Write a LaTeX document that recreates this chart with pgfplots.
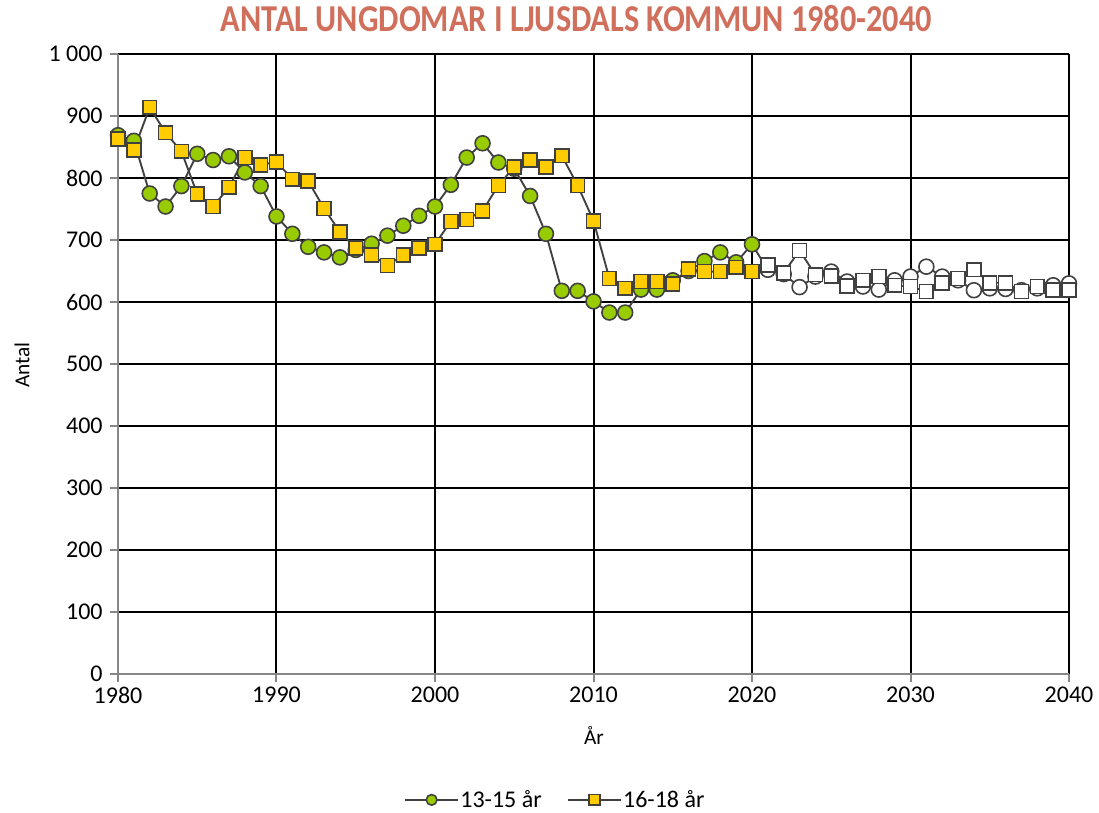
\documentclass[border=0pt]{standalone}
\usepackage{pgfplots}
\pgfplotsset{compat=1.18}
\usepackage{fontspec}
\setmainfont{Carlito}
\newfontfamily\titlefont[FakeStretch=0.85]{Carlito}

\definecolor{titlered}{RGB}{208,112,92}
\definecolor{kiwi}{RGB}{153,204,0}
\definecolor{gold}{RGB}{255,204,0}
\definecolor{edge}{RGB}{64,64,64}
\definecolor{axgray}{RGB}{134,134,134}

\begin{document}
\begin{tikzpicture}
    \useasboundingbox (-88.5bp,-104.25bp) rectangle (735.75bp,505.5bp);
    \begin{axis}[
        scale only axis,
        width=713.25bp, height=465bp,
        xmin=1980, xmax=2040,
        ymin=0, ymax=1000,
        xtick={1980,1990,...,2040},
        ytick={0,100,...,1000},
        yticklabels={0,100,200,300,400,500,600,700,800,900,1 000},
        xticklabel style={/pgf/number format/1000 sep={}},
        /pgf/number format/assume math mode=true,
        axis x line*=bottom, axis y line*=left,
        axis line style={axgray, line width=1.8bp, -},
        tick style={axgray, line width=1.5bp},
        tick align=outside,
        major tick length=6bp,
        grid=major,
        major grid style={black, line width=1.5bp},
        ticklabel style={font=\fontsize{18bp}{20bp}\selectfont},
        yticklabel style={xshift=-2bp},
        title={\titlefont\bfseries ANTAL UNGDOMAR I LJUSDALS KOMMUN 1980-2040},
        title style={at={(axis description cs:0.4820,1.0450)}, anchor=center,
            text=titlered, inner sep=0pt, font=\fontsize{28.5bp}{30bp}\selectfont},
        xlabel={År},
        xlabel style={at={(axis description cs:0.5005,-0.0984)}, anchor=center,
            font=\fontsize{16bp}{18bp}\selectfont},
        ylabel={Antal},
        ylabel style={at={(axis description cs:-0.101,0.498)}, anchor=center,
            rotate=0, font=\fontsize{16bp}{18bp}\selectfont},
        legend columns=2,
        legend style={at={(axis description cs:0.4595,-0.203)}, anchor=center,
            draw=none, fill=none, inner sep=0pt,
            nodes={inner sep=1bp}, font=\fontsize{18bp}{20bp}\selectfont,
            /tikz/every even column/.append style={column sep=18bp}},
        legend image code/.code={
            \draw[mark repeat=2, mark phase=2, mark size=4bp]
            plot coordinates {(0cm,0cm) (0.7cm,0cm) (1.4cm,0cm)};},
        every axis plot/.append style={line width=1.4bp, edge},
        clip=false,
    ]

    % 13-15 år, utfall
    \addplot[mark=*, mark size=5.6bp,
        mark options={fill=kiwi, draw=edge, line width=1.2bp}]
    table {
    x     y
    1980  869
    1981  860
    1982  775
    1983  754
    1984  787
    1985  839
    1986  829
    1987  835
    1988  809
    1989  787
    1990  738
    1991  710
    1992  689
    1993  680
    1994  672
    1995  684
    1996  694
    1997  707
    1998  723
    1999  739
    2000  754
    2001  789
    2002  833
    2003  856
    2004  825
    2005  815
    2006  771
    2007  710
    2008  618
    2009  618
    2010  601
    2011  583
    2012  583
    2013  620
    2014  620
    2015  635
    2016  650
    2017  666
    2018  680
    2019  664
    2020  693
    };
    \addlegendentry{13-15 år}

    % 13-15 år, prognos
    \addplot[forget plot, mark=*, mark size=5.6bp, mark indices={2,...,21},
        mark options={fill=white, draw=edge, line width=1.2bp}]
    table {
    x     y
    2020  693
    2021  652
    2022  645
    2023  624
    2024  641
    2025  649
    2026  633
    2027  625
    2028  620
    2029  635
    2030  641
    2031  657
    2032  641
    2033  635
    2034  619
    2035  622
    2036  621
    2037  619
    2038  622
    2039  627
    2040  630
    };

    % 16-18 år, utfall
    \addplot[mark=square*, mark size=5.2bp,
        mark options={fill=gold, draw=edge, line width=1.2bp}]
    table {
    x     y
    1980  863
    1981  845
    1982  914
    1983  873
    1984  843
    1985  774
    1986  754
    1987  785
    1988  833
    1989  821
    1990  826
    1991  798
    1992  795
    1993  751
    1994  713
    1995  687
    1996  676
    1997  659
    1998  676
    1999  687
    2000  693
    2001  730
    2002  733
    2003  747
    2004  788
    2005  818
    2006  829
    2007  818
    2008  836
    2009  788
    2010  731
    2011  638
    2012  622
    2013  633
    2014  633
    2015  629
    2016  653
    2017  649
    2018  649
    2019  656
    2020  649
    };
    \addlegendentry{16-18 år}

    % 16-18 år, prognos
    \addplot[forget plot, mark=square*, mark size=5.2bp, mark indices={2,...,21},
        mark options={fill=white, draw=edge, line width=1.2bp}]
    table {
    x     y
    2020  649
    2021  660
    2022  647
    2023  683
    2024  644
    2025  642
    2026  626
    2027  635
    2028  641
    2029  627
    2030  625
    2031  617
    2032  631
    2033  638
    2034  652
    2035  631
    2036  631
    2037  617
    2038  625
    2039  619
    2040  619
    };
    \end{axis}
\end{tikzpicture}
\end{document}
